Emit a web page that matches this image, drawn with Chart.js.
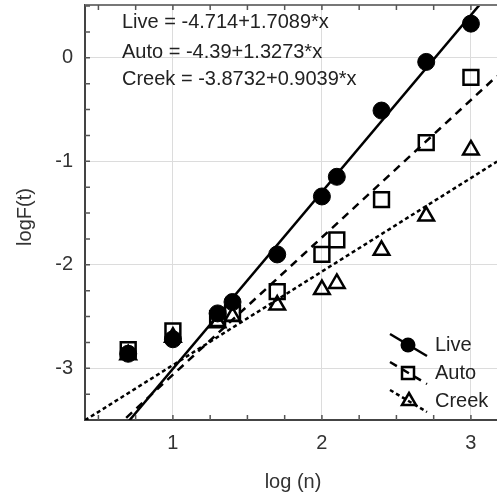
<!DOCTYPE html>
<html lang="en">
<head>
    <meta charset="UTF-8">
    <title>logF(t) vs log (n)</title>
    <script src="https://cdn.jsdelivr.net/npm/chart.js"></script>
    <style>
        body {
            margin: 0;
            padding: 0;
            background: #fff;
        }
        #wrap {
            width: 497px;
            height: 496px;
        }
    </style>
</head>
<body>
    <div id="wrap">
        <canvas id="fitChart" width="497" height="496"></canvas>
    </div>

    <script>
        // values
        const logN = [0.70, 1.00, 1.30, 1.40, 1.70, 2.00, 2.10, 2.40, 2.70, 3.00];
        const live = [-2.86, -2.72, -2.47, -2.36, -1.90, -1.34, -1.15, -0.51, -0.04, 0.33];
        const auto = [-2.82, -2.64, -2.52, -2.47, -2.26, -1.90, -1.76, -1.37, -0.82, -0.19];
        const creek = [-2.87, -2.70, -2.56, -2.50, -2.39, -2.24, -2.18, -1.86, -1.53, -0.89];

        // fitted lines, as printed on the chart
        const seriesNames = ['Live', 'Auto', 'Creek'];
        const intercepts = [-4.714, -4.39, -3.8732];
        const slopes = [1.7089, 1.3273, 0.9039];
        const equationText = ['Live = -4.714+1.7089*x', 'Auto = -4.39+1.3273*x', 'Creek = -3.8732+0.9039*x'];

        const xTicks = [1, 2, 3];
        const yTicks = [-3, -2, -1, 0];
        const xMin = 0.41, xMax = 3.175;
        const yMin = -3.5, yMax = 0.51;

        const FONT = '"Liberation Sans", Arial, sans-serif';
        const dashes = [[], [8, 6], [4, 3]];

        function pts(ys) {
            return logN.map((x, i) => ({ x: x, y: ys[i] }));
        }
        function fitLine(k) {
            return [xMin, xMax].map(x => ({ x: x, y: intercepts[k] + slopes[k] * x }));
        }

        // frame, inward ticks, axis titles, equations and legend
        const decor = {
            id: 'decor',
            afterDraw(chart) {
                const ctx = chart.ctx;
                const a = chart.chartArea;
                const xs = chart.scales.x, ys = chart.scales.y;
                ctx.save();

                ctx.strokeStyle = '#777';
                ctx.lineWidth = 2;
                ctx.beginPath();
                ctx.moveTo(a.left, a.top);
                ctx.lineTo(a.right, a.top);
                ctx.stroke();

                ctx.strokeStyle = '#555';
                ctx.lineWidth = 1.5;
                ctx.beginPath();
                for (let v = 0.5; v < xMax; v += 0.25) {
                    const px = xs.getPixelForValue(v);
                    ctx.moveTo(px, a.bottom);
                    ctx.lineTo(px, a.bottom - 5);
                    ctx.moveTo(px, a.top);
                    ctx.lineTo(px, a.top + 5);
                }
                for (let v = -3.25; v < yMax; v += 0.25) {
                    const py = ys.getPixelForValue(v);
                    ctx.moveTo(a.left, py);
                    ctx.lineTo(a.left + 5, py);
                }
                ctx.stroke();

                ctx.fillStyle = '#333';
                ctx.font = '20px ' + FONT;
                ctx.textAlign = 'center';
                ctx.textBaseline = 'middle';
                ctx.fillText('log (n)', 293, 482);
                ctx.save();
                ctx.translate(25, 217);
                ctx.rotate(-Math.PI / 2);
                ctx.fillText('logF(t)', 0, 0);
                ctx.restore();

                ctx.fillStyle = '#222';
                ctx.textAlign = 'left';
                const eqY = [22, 52, 79];
                equationText.forEach((t, i) => ctx.fillText(t, 122, eqY[i]));

                // legend
                const legY = [345, 373, 401];
                seriesNames.forEach((name, i) => {
                    const cy = legY[i];
                    ctx.strokeStyle = '#000';
                    ctx.lineWidth = 2.5;
                    ctx.setLineDash(dashes[i]);
                    ctx.beginPath();
                    ctx.moveTo(390, cy - 11);
                    ctx.lineTo(427, cy + 11);
                    ctx.stroke();
                    ctx.setLineDash([]);
                    ctx.beginPath();
                    if (i === 0) {
                        ctx.fillStyle = '#000';
                        ctx.arc(408, cy, 7.5, 0, Math.PI * 2);
                        ctx.fill();
                    } else if (i === 1) {
                        ctx.strokeRect(402, cy - 6, 12, 12);
                    } else {
                        ctx.moveTo(409, cy - 8);
                        ctx.lineTo(416, cy + 4);
                        ctx.lineTo(402, cy + 4);
                        ctx.closePath();
                        ctx.stroke();
                    }
                    ctx.fillStyle = '#222';
                    ctx.fillText(name, 435, cy);
                });

                ctx.restore();
            }
        };

        const ctx = document.getElementById('fitChart').getContext('2d');
        const chart = new Chart(ctx, {
            type: 'scatter',
            data: {
                datasets: [
                    {
                        label: 'Live fit', type: 'line', data: fitLine(0),
                        borderColor: '#000', borderWidth: 2.5, borderDash: dashes[0],
                        pointRadius: 0, fill: false
                    },
                    {
                        label: 'Auto fit', type: 'line', data: fitLine(1),
                        borderColor: '#000', borderWidth: 2.5, borderDash: dashes[1],
                        pointRadius: 0, fill: false
                    },
                    {
                        label: 'Creek fit', type: 'line', data: fitLine(2),
                        borderColor: '#000', borderWidth: 2.5, borderDash: dashes[2],
                        pointRadius: 0, fill: false
                    },
                    {
                        label: 'Live', data: pts(live), pointStyle: 'circle',
                        pointRadius: 8.5, backgroundColor: '#000', borderColor: '#000', borderWidth: 1
                    },
                    {
                        label: 'Auto', data: pts(auto), pointStyle: 'rect',
                        pointRadius: 10.5, backgroundColor: 'rgba(0,0,0,0)', borderColor: '#000', borderWidth: 2.5
                    },
                    {
                        label: 'Creek', data: pts(creek), pointStyle: 'triangle',
                        pointRadius: 9, backgroundColor: 'rgba(0,0,0,0)', borderColor: '#000', borderWidth: 2.5
                    }
                ]
            },
            options: {
                responsive: false,
                animation: false,
                layout: { autoPadding: false, padding: { top: 5, right: 0, left: 0, bottom: 0 } },
                plugins: {
                    legend: { display: false },
                    tooltip: { enabled: false }
                },
                scales: {
                    x: {
                        type: 'linear',
                        min: xMin,
                        max: xMax,
                        afterBuildTicks: s => { s.ticks = xTicks.map(v => ({ value: v })); },
                        afterFit: s => { s.height = 76; s.paddingLeft = 0; s.paddingRight = 0; },
                        grid: { color: '#dcdcdc', lineWidth: 1, drawTicks: false },
                        border: { display: true, color: '#444', width: 2 },
                        ticks: {
                            padding: 11,
                            maxRotation: 0,
                            color: '#333',
                            font: { family: FONT, size: 20 }
                        }
                    },
                    y: {
                        type: 'linear',
                        min: yMin,
                        max: yMax,
                        afterBuildTicks: s => { s.ticks = yTicks.map(v => ({ value: v })); },
                        afterFit: s => { s.width = 85; s.paddingTop = 0; s.paddingBottom = 0; },
                        grid: { color: '#dcdcdc', lineWidth: 1, drawTicks: false },
                        border: { display: true, color: '#444', width: 2 },
                        ticks: {
                            padding: 12,
                            color: '#333',
                            font: { family: FONT, size: 20 }
                        }
                    }
                }
            },
            plugins: [decor]
        });
    </script>
</body>
</html>
